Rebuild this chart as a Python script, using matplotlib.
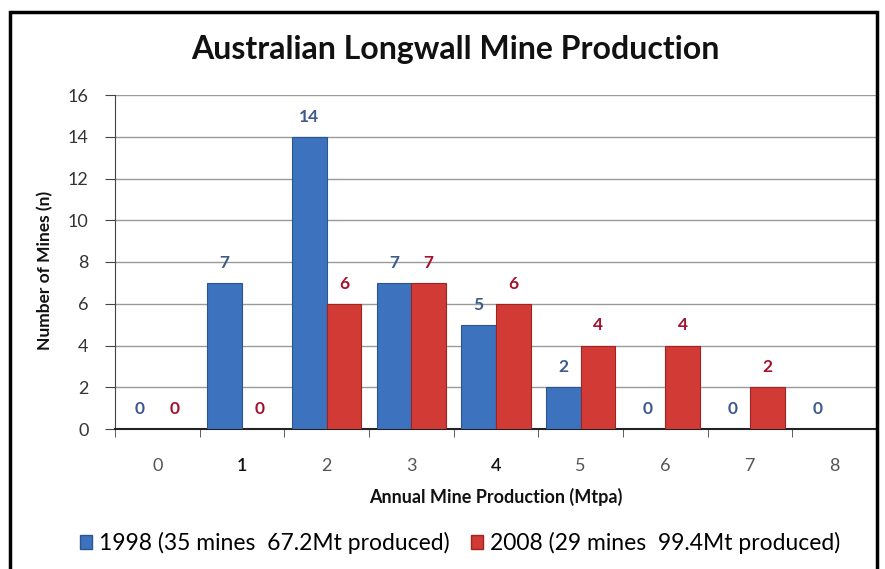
import matplotlib
matplotlib.use("Agg")
import matplotlib.pyplot as plt
from matplotlib.patches import Patch, Rectangle
import numpy as np

categories = ["0", "1", "2", "3", "4", "5", "6", "7", "8"]
mines_1998 = [0, 7, 14, 7, 5, 2, 0, 0, 0]
mines_2008 = [0, 0, 6, 7, 6, 4, 4, 2, None]
legend_1998 = "1998 (35 mines  67.2Mt produced)"
legend_2008 = "2008 (29 mines  99.4Mt produced)"
title = "Australian Longwall Mine Production"
xlabel = "Annual Mine Production (Mtpa)"
ylabel = "Number of Mines (n)"

plt.rcParams['font.family'] = ['Lato', 'DejaVu Sans']

W, H = 885, 569
fig = plt.figure(figsize=(W / 100, H / 100), dpi=100)
ax = fig.add_axes([115 / W, 1 - 429 / H, (877 - 115) / W, (429 - 95) / H])

blue = "#3D72BE"
red = "#D23A35"
blue_edge = "#2A5590"
red_edge = "#9E2421"
blue_txt = "#3C5A8A"
red_txt = "#A3122E"

x = np.arange(len(categories))
bw = 0.41

for i, (a, b) in enumerate(zip(mines_1998, mines_2008)):
    if a is not None:
        ax.bar(x[i] - bw / 2, a, width=bw, color=blue, edgecolor=blue_edge, linewidth=0.8, zorder=3)
        ax.annotate(str(a), (x[i] - bw / 2, a), xytext=(0, 20), textcoords='offset pixels',
                    ha='center', va='center', fontsize=12.5, fontweight='bold', color=blue_txt)
    if b is not None:
        ax.bar(x[i] + bw / 2, b, width=bw, color=red, edgecolor=red_edge, linewidth=0.8, zorder=3)
        ax.annotate(str(b), (x[i] + bw / 2, b), xytext=(0, 20), textcoords='offset pixels',
                    ha='center', va='center', fontsize=12.5, fontweight='bold', color=red_txt)

ax.set_xlim(-0.5, len(categories) - 0.5)
ax.set_ylim(0, 16)
ax.set_yticks(np.arange(0, 17, 2))
ax.set_xticks(x)
ax.set_xticklabels(categories)
ax.set_xticks(np.arange(-0.5, len(categories), 1), minor=True)
ax.tick_params(axis='x', which='major', length=0, pad=21, labelsize=13, labelcolor='#555555')
ax.tick_params(axis='x', which='minor', length=6, direction='out', color='#444444')
ax.tick_params(axis='y', length=7, direction='out', pad=12, labelsize=13, labelcolor='#333333', color='#444444')
for lbl in ax.get_xticklabels():
    if lbl.get_text() in ("1", "4"):
        lbl.set_color('#111111')
        lbl.set_fontweight('semibold')

ax.grid(axis='y', color='#9a9a9a', linewidth=1.0, zorder=0)
ax.set_axisbelow(True)
ax.spines['top'].set_visible(False)
ax.spines['right'].set_visible(False)
ax.spines['left'].set_color('#444444')
ax.spines['bottom'].set_color('#222222')
ax.spines['bottom'].set_linewidth(1.5)

fig.text(455 / W, 1 - 50 / H, title, ha='center', va='center', fontsize=23, fontweight='bold', color='#111111')
fig.text(496 / W, 1 - 497 / H, xlabel, ha='center', va='center', fontsize=13, fontweight='bold', color='#111111')
fig.text(45 / W, 1 - 270 / H, ylabel, ha='center', va='center', rotation=90, fontsize=12.5, fontweight='bold', color='#111111')

handles = [Patch(facecolor=blue, edgecolor=blue_edge, label=legend_1998),
           Patch(facecolor=red, edgecolor=red_edge, label=legend_2008)]
fig.legend(handles=handles, loc='center', bbox_to_anchor=(460 / W, 1 - 543 / H), ncol=2,
           frameon=False, fontsize=16.5, handlelength=0.55, handleheight=0.55, handletextpad=0.3,
           columnspacing=0.9)

# outer chart border
fig.add_artist(Rectangle((10 / W, -0.05), (877 - 10) / W, 1.05 - 12 / H, transform=fig.transFigure,
                         fill=False, edgecolor='black', linewidth=2.5))

fig.savefig("out.png", dpi=100)
